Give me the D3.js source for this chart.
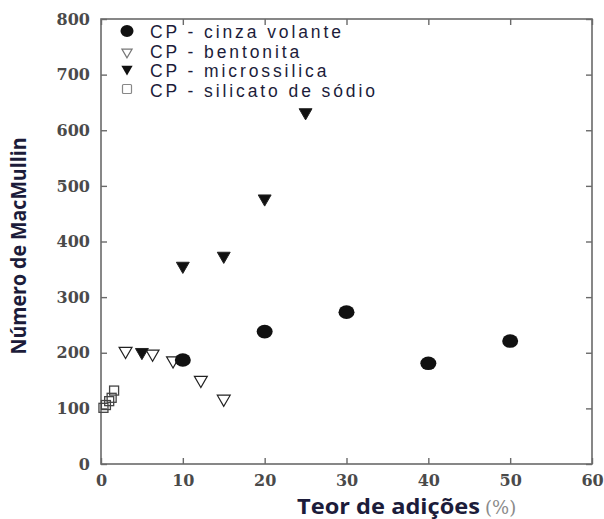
<!DOCTYPE html>
<html>
<head>
<meta charset="utf-8">
<script src="https://cdn.jsdelivr.net/npm/d3@7"></script>
<style>
  html, body { margin: 0; padding: 0; background: #fff; }
  svg { display: block; }
</style>
</head>
<body>
<svg id="chart" width="604" height="519"></svg>
<script>
// Axis ticks
const xTicks = [0, 10, 20, 30, 40, 50, 60];
const yTicks = [0, 100, 200, 300, 400, 500, 600, 700, 800];

// Series: [teor de adições (%), número de MacMullin]
const cinzaVolante = [[10, 187], [20, 238], [30, 273], [40, 181], [50, 221]];
const bentonita = [[3, 203], [6.3, 198], [8.8, 186], [12.2, 151], [15, 117]];
const microssilica = [[5, 201], [10, 356], [15, 374], [20, 477], [25, 632]];
const silicatoSodio = [[0.3, 101], [0.6, 106], [1.0, 113], [1.3, 119], [1.6, 132]];

const seriesNames = [
  "CP - cinza volante",
  "CP - bentonita",
  "CP - microssilica",
  "CP - silicato de sódio"
];

const svg = d3.select("#chart");
const plotL = 101, plotR = 592, plotT = 19, plotB = 464;

const x = d3.scaleLinear().domain([0, 60]).range([plotL, plotR]);
const y = d3.scaleLinear().domain([0, 800]).range([plotB, plotT]);

const axisColor = "#6a6a6a";
const tickFont = "'DejaVu Serif', 'Liberation Serif', serif";
const sansFont = "'Open Sans', 'Liberation Sans', sans-serif";

// Frame
svg.append("rect")
  .attr("x", plotL).attr("y", plotT)
  .attr("width", plotR - plotL).attr("height", plotB - plotT)
  .attr("fill", "none").attr("stroke", axisColor).attr("stroke-width", 1.6);

// Axes with inward ticks
const xAxis = svg.append("g").attr("transform", `translate(0,${plotB})`)
  .call(d3.axisBottom(x).tickValues(xTicks).tickSize(-6).tickPadding(11).tickFormat(d3.format("d")));
const yAxis = svg.append("g").attr("transform", `translate(${plotL},0)`)
  .call(d3.axisLeft(y).tickValues(yTicks).tickSize(-6).tickPadding(11).tickFormat(d3.format("d")));
const yAxisR = svg.append("g").attr("transform", `translate(${plotR},0)`)
  .call(d3.axisRight(y).tickValues(yTicks).tickSize(-6).tickFormat(""));
const xAxisT = svg.append("g").attr("transform", `translate(0,${plotT})`)
  .call(d3.axisTop(x).tickValues(xTicks).tickSize(-6).tickFormat(""));

[xAxis, yAxis, yAxisR, xAxisT].forEach(g => {
  g.select(".domain").remove();
  g.selectAll(".tick line").attr("stroke", axisColor).attr("stroke-width", 1.4);
  g.selectAll("text")
    .attr("font-family", tickFont)
    .attr("font-size", 16)
    .attr("font-weight", "bold")
    .attr("fill", "#4a4a4a");
});

// Marker drawing helpers
const triDown = d3.symbol().type(d3.symbolTriangle).size(72);
function drawTriangles(data, fill) {
  svg.append("g").selectAll("path").data(data).join("path")
    .attr("transform", d => `translate(${x(d[0])},${y(d[1])}) rotate(180)`)
    .attr("d", triDown)
    .attr("fill", fill)
    .attr("stroke", "#222").attr("stroke-width", fill === "none" ? 1.2 : 1);
}

// Silicato de sódio: open squares
svg.append("g").selectAll("rect").data(silicatoSodio).join("rect")
  .attr("x", d => x(d[0]) - 4.5).attr("y", d => y(d[1]) - 4.5)
  .attr("width", 9).attr("height", 9)
  .attr("fill", "none").attr("stroke", "#444").attr("stroke-width", 1.3);

// Bentonita: open down-triangles
drawTriangles(bentonita, "none");
// Microssílica: filled down-triangles
drawTriangles(microssilica, "#111");

// Cinza volante: filled circles
svg.append("g").selectAll("ellipse").data(cinzaVolante).join("ellipse")
  .attr("cx", d => x(d[0])).attr("cy", d => y(d[1]))
  .attr("rx", 8).attr("ry", 6.8)
  .attr("fill", "#111");

// Legend
const legendY = [32, 52, 71, 91];
const lg = svg.append("g");
const lx = 127;
lg.append("ellipse").attr("cx", lx).attr("cy", legendY[0] - 1).attr("rx", 6.5).attr("ry", 6).attr("fill", "#111");
lg.append("path").attr("transform", `translate(${lx},${legendY[1]}) rotate(180)`)
  .attr("d", d3.symbol().type(d3.symbolTriangle).size(45)).attr("fill", "none")
  .attr("stroke", "#777").attr("stroke-width", 1.2);
lg.append("path").attr("transform", `translate(${lx},${legendY[2] - 2}) rotate(180)`)
  .attr("d", d3.symbol().type(d3.symbolTriangle).size(55)).attr("fill", "#111");
lg.append("rect").attr("x", lx - 4.5).attr("y", legendY[3] - 6.5).attr("width", 9).attr("height", 9)
  .attr("rx", 1).attr("fill", "none").attr("stroke", "#888").attr("stroke-width", 1.2);

lg.selectAll("text").data(seriesNames).join("text")
  .attr("x", 150)
  .attr("y", (d, i) => legendY[i])
  .attr("dy", "0.36em")
  .attr("font-family", "'Liberation Sans', Arial, sans-serif")
  .attr("font-size", 17.5)
  .attr("letter-spacing", 2.9)
  .attr("fill", "#1c1c3a")
  .text(d => d);

// Axis titles
svg.append("text")
  .attr("transform", "translate(26,246) rotate(-90)")
  .attr("text-anchor", "middle")
  .attr("font-family", sansFont)
  .attr("font-weight", "bold")
  .attr("font-size", 21)
  .attr("textLength", 217)
  .attr("lengthAdjust", "spacingAndGlyphs")
  .attr("fill", "#1c1c3a")
  .text("Número de MacMullin");

const xt = svg.append("text")
  .attr("x", 297).attr("y", 514)
  .attr("font-family", sansFont)
  .attr("font-weight", "bold")
  .attr("font-size", 21)
  .attr("fill", "#1c1c3a");
xt.append("tspan").attr("textLength", 183).attr("lengthAdjust", "spacingAndGlyphs")
  .text("Teor de adições");
xt.append("tspan").attr("dx", 5).attr("fill", "#8a8a8a").attr("font-weight", "normal")
  .attr("font-size", 18).attr("font-family", tickFont).text("(%)");
</script>
</body>
</html>
